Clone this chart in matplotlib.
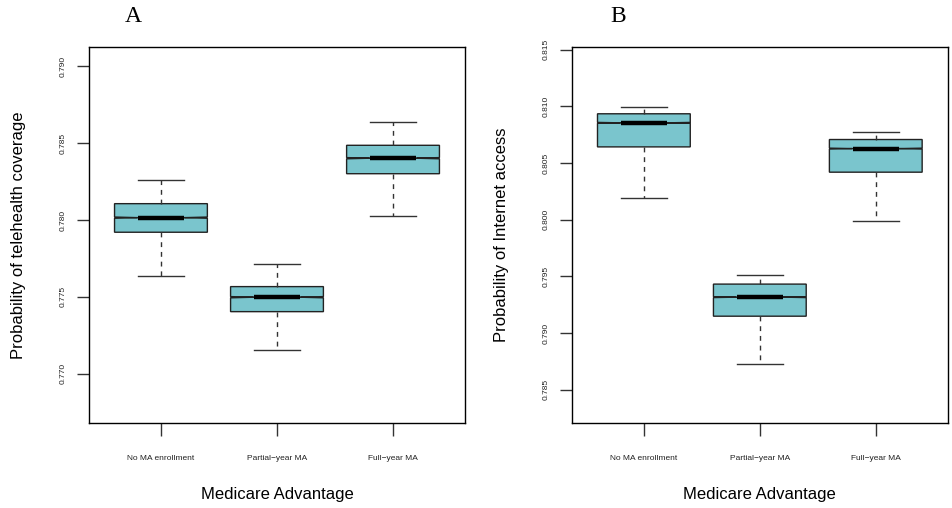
import matplotlib
matplotlib.use("Agg")
import matplotlib.pyplot as plt

# categories
groups = ["No MA enrollment", "Partial\u2212year MA", "Full\u2212year MA"]

# panel A: telehealth coverage
a_low = [0.77637, 0.77156, 0.78028]
a_q1 = [0.77920, 0.77403, 0.78301]
a_med = [0.78015, 0.77497, 0.78402]
a_q3 = [0.78106, 0.77566, 0.78486]
a_high = [0.78260, 0.77716, 0.78640]

# panel B: internet access
b_low = [0.80194, 0.78725, 0.79991]
b_q1 = [0.80642, 0.79149, 0.80419]
b_med = [0.80854, 0.79317, 0.80627]
b_q3 = [0.80934, 0.79432, 0.80707]
b_high = [0.80993, 0.79509, 0.80775]

a_ticks = [0.770, 0.775, 0.780, 0.785, 0.790]
b_ticks = [0.785, 0.790, 0.795, 0.800, 0.805, 0.810, 0.815]

fill = "#7AC5CD"
notch = 0.00004  # tiny notch, as in R's notch=TRUE


def make_stats(low, q1, med, q3, high):
    out = []
    for i in range(len(med)):
        out.append(dict(whislo=low[i], q1=q1[i], med=med[i], q3=q3[i], whishi=high[i],
                        cilo=med[i] - notch, cihi=med[i] + notch, fliers=[]))
    return out


def panel(ax, stats, ticks, ylim, ylabel):
    ax.bxp(stats, positions=[1, 2, 3], widths=0.8, shownotches=True, patch_artist=True,
           showfliers=False,
           boxprops=dict(facecolor=fill, edgecolor="#222222", linewidth=1.0),
           medianprops=dict(color="black", linewidth=3.2, solid_capstyle="butt"),
           whiskerprops=dict(color="#333333", linewidth=1.0, linestyle=(0, (3.5, 3.5))),
           capprops=dict(color="#333333", linewidth=1.0), capwidths=0.4)
    ax.set_xlim(0.38, 3.62)
    ax.set_ylim(*ylim)
    ax.set_xticks([1, 2, 3])
    ax.set_xticklabels(groups, fontsize=6, color="#222222")
    ax.set_yticks(ticks)
    ax.set_yticklabels(["%.3f" % t for t in ticks], fontsize=6, rotation=90,
                       va="center", color="#222222")
    ax.tick_params(axis="both", length=9, width=1.0, color="#333333")
    ax.tick_params(axis="x", pad=14)
    ax.tick_params(axis="y", pad=7)
    for s in ax.spines.values():
        s.set_linewidth(1.0)
        s.set_color("black")
    ax.set_xlabel("Medicare Advantage", fontsize=12)
    ax.set_ylabel(ylabel, fontsize=12)
    ax.xaxis.label.set_va("center")
    ax.xaxis.set_label_coords(0.5, -0.189)
    ax.yaxis.label.set_va("center")
    ax.yaxis.label.set_ha("center")
    ax.yaxis.set_label_coords(-0.188, 0.5)


plt.rcParams["font.family"] = ["Liberation Sans", "DejaVu Sans"]

fig = plt.figure(figsize=(9.53, 5.08), dpi=100)
axA = fig.add_axes([0.0934, 0.1673, 0.3945, 0.7402])
axB = fig.add_axes([0.6002, 0.1673, 0.3942, 0.7402])

panel(axA, make_stats(a_low, a_q1, a_med, a_q3, a_high), a_ticks,
      (0.76678, 0.79126), "Probability of telehealth coverage")
panel(axB, make_stats(b_low, b_q1, b_med, b_q3, b_high), b_ticks,
      (0.78207, 0.81523), "Probability of Internet access")

fig.text(133 / 953, 1 - 17 / 508, "A", fontsize=17, family="Liberation Serif",
         ha="center", va="center")
fig.text(618 / 953, 1 - 17 / 508, "B", fontsize=17, family="Liberation Serif",
         ha="center", va="center")

fig.savefig("out.png", dpi=100)
